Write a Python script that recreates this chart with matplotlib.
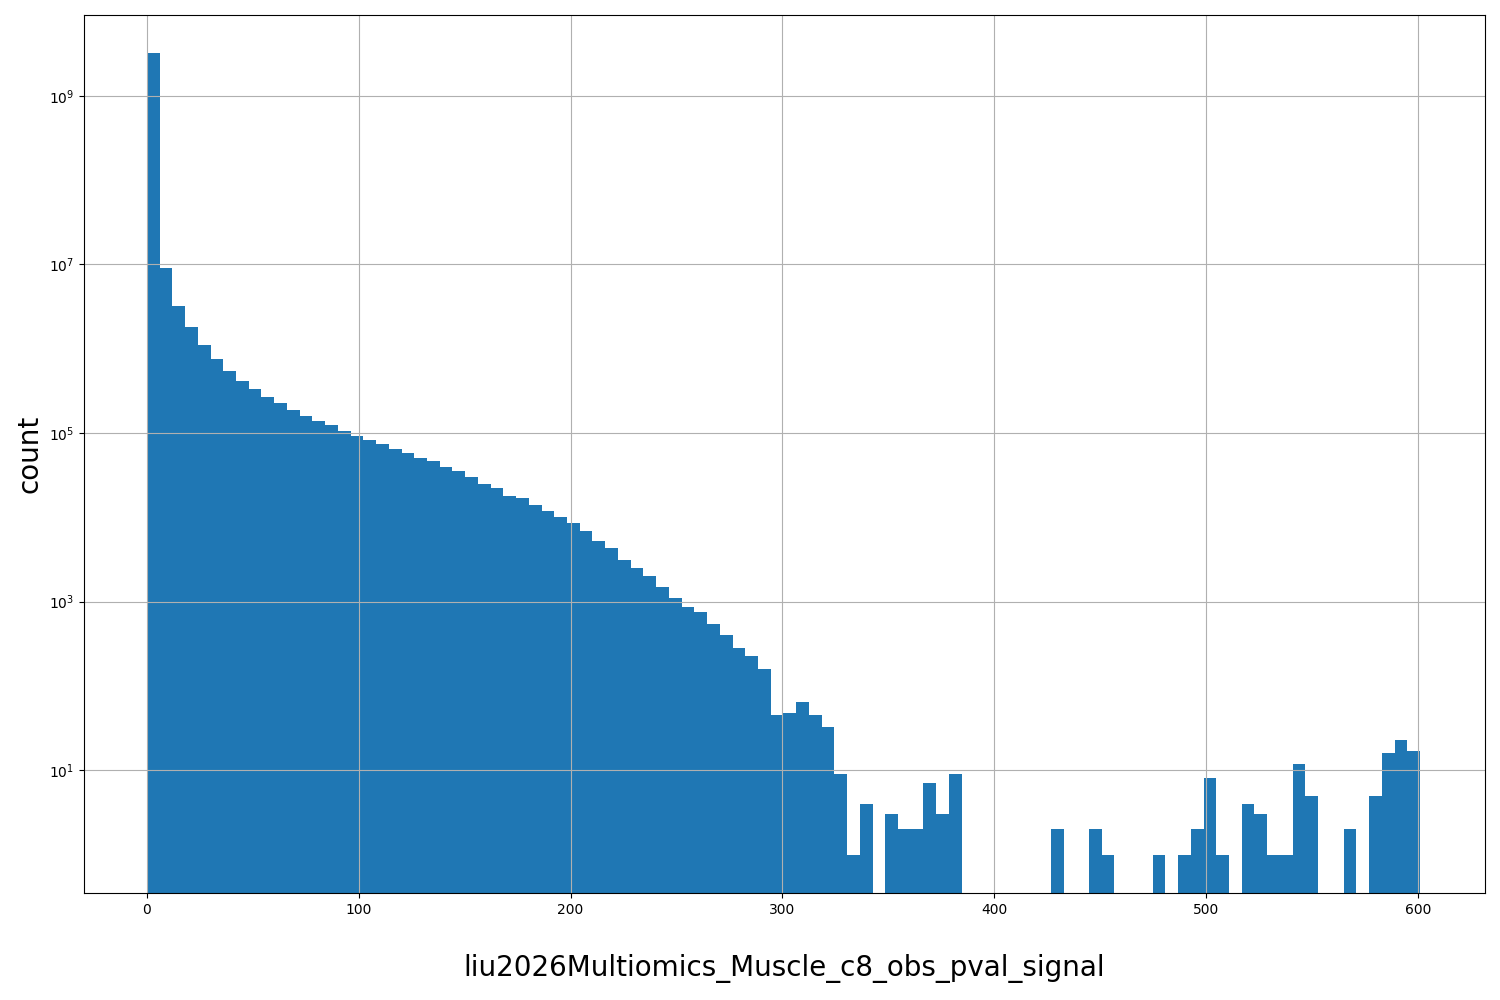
import numpy as np
import matplotlib.pyplot as plt

# counts per bin (100 bins over 0..601)
counts = [3.2e9, 9.0e6, 3.2e6, 1.8e6, 1.1e6, 7.6e5, 5.5e5, 4.2e5, 3.3e5, 2.7e5,
          2.3e5, 1.9e5, 1.6e5, 1.4e5, 1.25e5, 1.05e5, 9.2e4, 8.2e4, 7.4e4, 6.5e4,
          5.8e4, 5.0e4, 4.6e4, 4.0e4, 3.5e4, 3.0e4, 2.5e4, 2.2e4, 1.8e4, 1.7e4,
          1.4e4, 1.2e4, 1.0e4, 8.5e3, 6.8e3, 5.2e3, 4.3e3, 3.1e3, 2.5e3, 2.0e3,
          1.5e3, 1.1e3, 870, 760, 550, 400, 285, 228, 160, 45,
          48, 65, 45, 33, 9, 1, 4, 0, 3, 2,
          2, 7, 3, 9, 0, 0, 0, 0, 0, 0,
          0, 2, 0, 0, 2, 1, 0, 0, 0, 1,
          0, 1, 2, 8, 1, 0, 4, 3, 1, 1,
          12, 5, 0, 0, 2, 0, 5, 16, 23, 17]
x_max = 601
xlabel = "liu2026Multiomics_Muscle_c8_obs_pval_signal"

edges = np.linspace(0, x_max, len(counts) + 1)
centers = (edges[:-1] + edges[1:]) / 2

fig = plt.figure(figsize=(15, 10), dpi=100)
ax = fig.add_axes([0.056, 0.107, 0.934, 0.878])
ax.hist(centers, bins=edges, weights=counts, color='#1f77b4')
ax.set_yscale('log')
ax.set_ylim(0.35, 9.1e9)
ax.set_xlim(-29.7, 631.7)
ax.set_yticks([1e1, 1e3, 1e5, 1e7, 1e9])
ax.minorticks_off()
ax.grid(True)
ax.set_xlabel(xlabel, fontsize=20, labelpad=27)
ax.set_ylabel('count', fontsize=20)
plt.savefig('out.png')
